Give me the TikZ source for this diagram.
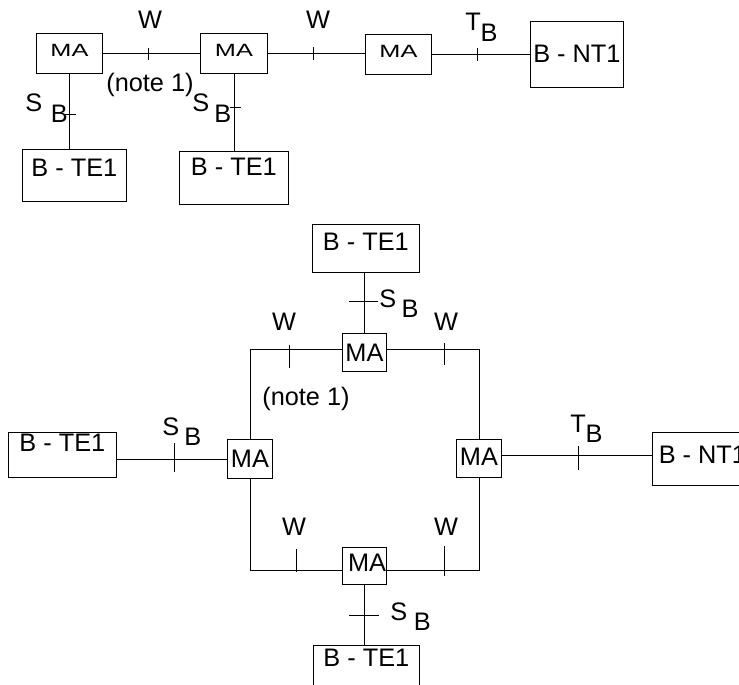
\documentclass[tikz,border=0pt]{standalone}
\usepackage{fontspec}
\setmainfont{Liberation Sans}
\usepackage{graphicx}

\tikzset{
  unit/.style={draw, line width=0.6pt, anchor=north west, inner sep=0pt, text height=13.6pt},
  wire/.style={line width=0.6pt},
  tag/.style={inner sep=0pt},
}
\newcommand{\refpt}[2]{#1\hspace{#2}\raisebox{-8pt}{B}}

\begin{document}
\begin{tikzpicture}[x=0.75pt,y=0.75pt,yscale=-1,xscale=1,font=\fontsize{19}{22}\selectfont]
	\useasboundingbox (0,0) rectangle (739,685);

	% bus
	\draw (36,33) node (ma1) [unit, minimum width=49.5pt, minimum height=30pt, text height=9.5pt, text depth=5.25pt] {\scalebox{1}[0.7]{MA}};
	\draw (200,33) node (ma2) [unit, minimum width=50.25pt, minimum height=30pt, text height=9.5pt, text depth=5.25pt] {\scalebox{1}[0.7]{MA}};
	\draw (365,34) node (ma3) [unit, minimum width=49.5pt, minimum height=30pt, text height=9.5pt, text depth=5.25pt] {\scalebox{1}[0.7]{MA}};
	\draw (530,21) node (nt1) [unit, minimum width=69.75pt, minimum height=49.5pt, text depth=1.5pt] {B - NT1};
	\draw (22,149) node (te1) [unit, minimum width=78pt, minimum height=39pt, text depth=12pt] {B - TE1};
	\draw (179,151) node (te2) [unit, minimum width=81.75pt, minimum height=39.75pt, text depth=17.25pt] {B - TE1};

	\draw [wire] (ma1.east) -- (ma2.west);
	\draw [wire] (ma2.east) -- (ma2.east -| ma3.west);
	\draw [wire] (ma3.east) -- (nt1.west);
	\draw [wire] (ma1.south) -- (ma1.south |- te1.north);
	\draw [wire] (ma2.south) -- (ma2.south |- te2.north);

	\draw [wire] (148,48) -- (148,60);
	\draw [wire] (313,47) -- (313,60);
	\draw [wire] (477,48) -- (477,61);
	\draw [wire] (65,114) -- (76,114);
	\draw [wire] (230,107) -- (241,107);

	\draw (150,20) node (w1) [tag] {W};
	\draw (318,20) node (w2) [tag] {W};
	\draw (465,31) node (tb1) [tag, anchor=base west] {\refpt{T}{0pt}};
	\draw (25,112) node (sb1) [tag, anchor=base west] {\refpt{S}{6.5pt}};
	\draw (192,112) node (sb2) [tag, anchor=base west] {\refpt{S}{4pt}};
	\draw (150,85) node (n1) [tag] {(note 1)};

	% ring
	\draw (312,224) node (teT) [unit, minimum width=80.25pt, minimum height=36pt, text depth=10.5pt] {B - TE1};
	\draw (342,333) node (maT) [unit, minimum width=33pt, minimum height=28.5pt, text depth=0pt] {MA};
	\draw (227,439) node (maL) [unit, minimum width=33.75pt, minimum height=29.25pt, text depth=0pt] {MA};
	\draw (456,439) node (maR) [unit, minimum width=33.75pt, minimum height=28.5pt, text depth=3pt] {MA};
	\draw (342,547) node (maB) [unit, minimum width=33pt, minimum height=27.75pt, text depth=4.5pt] {\hspace{4pt}MA\hspace{-4pt}};
	\draw (8,432) node (teL) [unit, minimum width=81pt, minimum height=33.75pt, text depth=18pt] {B - TE1};
	\draw (652,432) node (ntR) [unit, minimum width=75pt, minimum height=39.75pt, text depth=6pt] {B - NT1};
	\draw (313,645) node (teB) [unit, minimum width=79.5pt, minimum height=41.25pt, text depth=22.5pt] {B - TE1};

	\draw [wire] (maT.north) -- (maT.north |- teT.south);
	\draw [wire] ([yshift=-2.25pt]maT.west) -| (maL.north);
	\draw [wire] ([yshift=-2.25pt]maT.east) -| (maR.north);
	\draw [wire] (maL.south) |- ([yshift=3.4pt]maB.west);
	\draw [wire] (maR.south) |- ([yshift=3.4pt]maB.east);
	\draw [wire] (maL.west) -- (maL.west -| teL.east);
	\draw [wire] ([yshift=-2pt]maR.east) -- ([yshift=-2pt]maR.east -| ntR.west);
	\draw [wire] (maB.south) -- (maB.south |- teB.north);

	\draw [wire] (349,301) -- (378,301);
	\draw [wire] (289,345) -- (289,368);
	\draw [wire] (444,343) -- (444,365);
	\draw [wire] (174,443) -- (174,472);
	\draw [wire] (578,446) -- (578,470);
	\draw [wire] (296,549) -- (296,572);
	\draw [wire] (444,546) -- (444,576);
	\draw [wire] (349,615) -- (379,615);

	\draw (379,307) node (sb3) [tag, anchor=base west] {\refpt{S}{4pt}};
	\draw (284,322) node (w3) [tag] {W};
	\draw (446,322) node (w4) [tag] {W};
	\draw (306,399) node (n2) [tag] {(note 1)};
	\draw (162,435) node (sb4) [tag, anchor=base west] {\refpt{S}{4pt}};
	\draw (570,432) node (tb2) [tag, anchor=base west] {\refpt{T}{0pt}};
	\draw (294,527) node (w5) [tag] {W};
	\draw (446,527) node (w6) [tag] {W};
	\draw (390,620) node (sb5) [tag, anchor=base west] {\refpt{S}{5pt}};
\end{tikzpicture}
\end{document}
